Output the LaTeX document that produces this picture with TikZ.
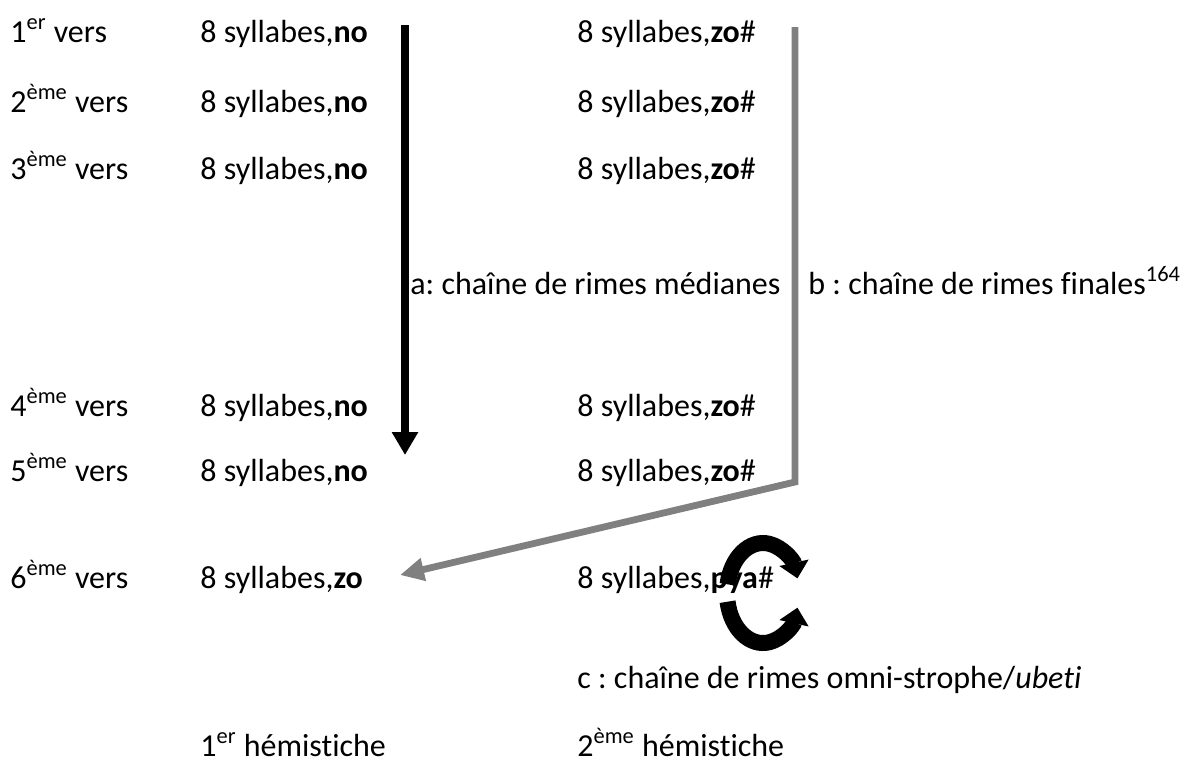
\documentclass[tikz,border=0pt]{standalone}
\usepackage{fontspec}
\setmainfont{Carlito}[Ligatures={NoCommon}]
\usetikzlibrary{arrows.meta}
\definecolor{chaingray}{RGB}{128,128,128}
\begin{document}
\frenchspacing
\begin{tikzpicture}[x=0.5pt,y=-0.5pt,
  lbl/.style={anchor=base west, inner sep=0pt, font=\fontsize{16}{19}\selectfont},
  medchain/.style={line width=3.8pt, -{Triangle[length=11.5pt,width=12.5pt]}},
  finchain/.style={line width=3.4pt, chaingray, line join=miter, -{Triangle[length=12pt,width=11pt]}},
  roundarrow/.style={line width=8pt, -{Triangle[length=8pt,width=14.5pt]}}]
\useasboundingbox (0,0) rectangle (1181,773);
% omni-strophe cycle, under the text
\coordinate (cyc) at (763,593);
\draw[roundarrow] (cyc) ++(-170:36 and 50) arc[start angle=-170, end angle=-17, x radius=36, y radius=50];
\draw[roundarrow] (cyc) ++(170:36 and 50) arc[start angle=170, end angle=17, x radius=36, y radius=50];
% lines of the stanza
\node[lbl] (v1) at (10,42) {1\textsuperscript{er} vers};
\node[lbl] (s1) at (200,42) {8 syllabes,\textbf{no}};
\node[lbl] (f1) at (577,42) {8 syllabes,\textbf{zo}\#};
\node[lbl] (v2) at (10,112) {2\textsuperscript{ème} vers};
\node[lbl] (s2) at (200,112) {8 syllabes,\textbf{no}};
\node[lbl] (f2) at (577,112) {8 syllabes,\textbf{zo}\#};
\node[lbl] (v3) at (10,179) {3\textsuperscript{ème} vers};
\node[lbl] (s3) at (200,179) {8 syllabes,\textbf{no}};
\node[lbl] (f3) at (577,179) {8 syllabes,\textbf{zo}\#};
\node[lbl] (v4) at (10,416) {4\textsuperscript{ème} vers};
\node[lbl] (s4) at (200,416) {8 syllabes,\textbf{no}};
\node[lbl] (f4) at (577,416) {8 syllabes,\textbf{zo}\#};
\node[lbl] (v5) at (10,481) {5\textsuperscript{ème} vers};
\node[lbl] (s5) at (200,481) {8 syllabes,\textbf{no}};
\node[lbl] (f5) at (577,481) {8 syllabes,\textbf{zo}\#};
\node[lbl] (v6) at (10,588) {6\textsuperscript{ème} vers};
\node[lbl] (s6) at (200,588) {8 syllabes,\textbf{zo}};
\node[lbl] (f6) at (577,588) {8 syllabes,\textbf{pya}\#};
% chains
\node[lbl] (ca) at (410,294) {a: chaîne de rimes médianes};
\node[lbl] (cb) at (808,294) {b : chaîne de rimes finales\textsuperscript{164}};
\node[lbl] (cc) at (577,688) {c : chaîne de rimes omni-strophe/\textit{ubeti}};
\node[lbl] (h1) at (200,756) {1\textsuperscript{er} hémistiche};
\node[lbl] (h2) at (577,756) {2\textsuperscript{ème} hémistiche};
\coordinate (atop) at (405,25);
\coordinate (abot) at (405,455);
\coordinate (btop) at (795,27);
\coordinate (bcorner) at (795,482);
\coordinate (btip) at (400,575);
\draw[medchain] (atop) -- (abot);
\draw[finchain] (btop) -- (bcorner) -- (btip);

\end{tikzpicture}
\end{document}
